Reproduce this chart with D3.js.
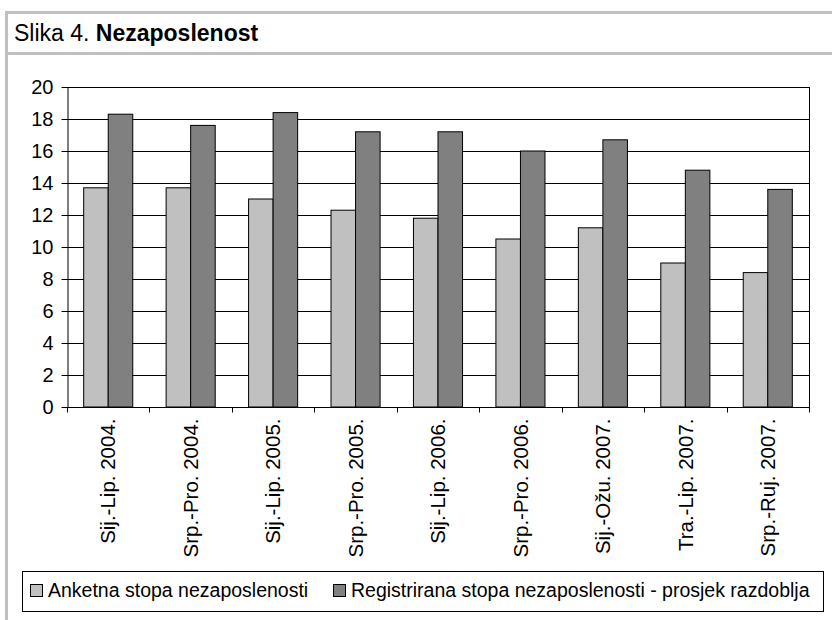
<!DOCTYPE html>
<html>
<head>
<meta charset="utf-8">
<script src="https://cdn.jsdelivr.net/npm/d3@7"></script>
<style>
  html, body { margin: 0; padding: 0; background: #fff; }
  svg { display: block; }
  text { font-family: "Liberation Sans", Arial, sans-serif; fill: #000; }
</style>
</head>
<body>
<svg id="chart" width="832" height="620"></svg>
<script>
const categories = ["Sij.-Lip. 2004.", "Srp.-Pro. 2004.", "Sij.-Lip. 2005.", "Srp.-Pro. 2005.", "Sij.-Lip. 2006.", "Srp.-Pro. 2006.", "Sij.-Ožu. 2007.", "Tra.-Lip. 2007.", "Srp.-Ruj. 2007."];
const seriesNames = ["Anketna stopa nezaposlenosti", "Registrirana stopa nezaposlenosti - prosjek razdoblja"];
const anketna = [13.7, 13.7, 13.0, 12.3, 11.8, 10.5, 11.2, 9.0, 8.4];
const registrirana = [18.3, 17.6, 18.4, 17.2, 17.2, 16.0, 16.7, 14.8, 13.6];
const yTicks = [0, 2, 4, 6, 8, 10, 12, 14, 16, 18, 20];
const seriesColors = ["#c0c0c0", "#808080"];

(function () {
const svg = d3.select("#chart");
svg.append("rect").attr("width", 832).attr("height", 620).attr("fill", "#fff");

// frame
svg.append("rect").attr("x", 5).attr("y", 11).attr("width", 827).attr("height", 3).attr("fill", "#c0c0c0");
svg.append("rect").attr("x", 5).attr("y", 52).attr("width", 827).attr("height", 3).attr("fill", "#c0c0c0");
svg.append("rect").attr("x", 5).attr("y", 11).attr("width", 3).attr("height", 609).attr("fill", "#c0c0c0");

// title
const title = svg.append("text").attr("x", 14).attr("y", 41).style("font-size", "23px");
title.append("tspan").text("Slika 4. ");
title.append("tspan").attr("font-weight", "bold").text("Nezaposlenost");

const pLeft = 67, pRight = 809, pTop = 87, pBottom = 407;
const y = d3.scaleLinear().domain([0, 20]).range([pBottom, pTop]);
const x0 = d3.scaleBand().domain(categories).range([pLeft, pRight]).padding(0);
const x1 = d3.scaleBand().domain([0, 1]).range([0, x0.bandwidth()]).paddingInner(0).paddingOuter(0.68);

// gridlines
svg.append("g").selectAll("line").data(yTicks.filter(d => d > 0)).join("line")
  .attr("x1", pLeft).attr("x2", pRight)
  .attr("y1", d => Math.round(y(d)) + 0.5).attr("y2", d => Math.round(y(d)) + 0.5)
  .attr("stroke", "#000").attr("stroke-width", 1);
// right border
svg.append("line").attr("x1", pRight + 0.5).attr("x2", pRight + 0.5)
  .attr("y1", pTop).attr("y2", pBottom).attr("stroke", "#000");

// bars
const data = categories.map((c, i) => ({ c, vals: [anketna[i], registrirana[i]] }));
const groups = svg.append("g").selectAll("g").data(data).join("g")
  .attr("transform", d => `translate(${x0(d.c)},0)`);
groups.selectAll("rect").data(d => d.vals.map((v, k) => ({ v, k }))).join("rect")
  .attr("x", d => x1(d.k))
  .attr("y", d => y(d.v))
  .attr("width", x1.bandwidth())
  .attr("height", d => y(0) - y(d.v))
  .attr("fill", d => seriesColors[d.k])
  .attr("stroke", "#000").attr("stroke-width", 1);

// y axis
const yAxis = svg.append("g").attr("transform", `translate(${pLeft + 0.5},0)`)
  .call(d3.axisLeft(y).tickValues(yTicks).tickSize(6).tickPadding(8).tickSizeOuter(0));
yAxis.select(".domain").attr("stroke", "#000");
yAxis.selectAll(".tick line").attr("stroke", "#000");
yAxis.selectAll("text").style("font-size", "20px").style("font-family", "Liberation Sans, Arial, sans-serif");

// x axis
const xAxis = svg.append("g").attr("transform", `translate(0,${pBottom + 0.5})`);
xAxis.append("line").attr("x1", pLeft).attr("x2", pRight + 1).attr("stroke", "#000");
const boundaries = d3.range(categories.length + 1).map(i => pLeft + i * x0.step());
xAxis.selectAll("line.tk").data(boundaries).join("line").attr("class", "tk")
  .attr("x1", d => Math.round(d) + 0.5).attr("x2", d => Math.round(d) + 0.5)
  .attr("y1", 0).attr("y2", 5).attr("stroke", "#000");
xAxis.selectAll("text").data(categories).join("text")
  .attr("transform", d => `translate(${x0(d) + x0.bandwidth() / 2},11) rotate(-90)`)
  .attr("text-anchor", "end").attr("dy", "0.35em")
  .style("font-size", "20.5px")
  .text(d => d);

// legend
svg.append("rect").attr("x", 22.5).attr("y", 571.5).attr("width", 801).attr("height", 40)
  .attr("fill", "#fff").attr("stroke", "#000");
const legendX = [30, 333];
const lg = svg.append("g").selectAll("g").data(seriesNames).join("g")
  .attr("transform", (d, i) => `translate(${legendX[i]},0)`);
lg.append("rect").attr("x", 0.5).attr("y", 584.5).attr("width", 12).attr("height", 12)
  .attr("fill", (d, i) => seriesColors[i]).attr("stroke", "#000");
lg.append("text").attr("x", 18).attr("y", 597).style("font-size", "19.5px").text(d => d);
})();
</script>
</body>
</html>
